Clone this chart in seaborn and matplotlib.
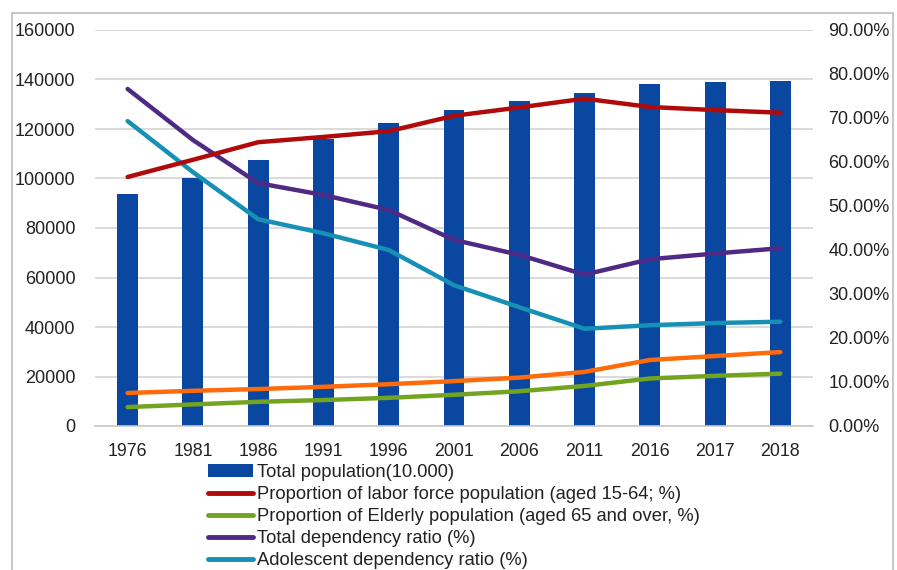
import numpy as np
import pandas as pd
import matplotlib
matplotlib.use("Agg")
import matplotlib.pyplot as plt
from matplotlib.lines import Line2D
from matplotlib.patches import Patch
import seaborn as sns

years = ["1976", "1981", "1986", "1991", "1996", "2001", "2006", "2011", "2016", "2017", "2018"]
total_population = [93717, 100072, 107507, 115823, 122389, 127627, 131448, 134735, 138271, 139008, 139538]
labor_force = [56.6, 60.5, 64.5, 65.7, 67.0, 70.5, 72.4, 74.4, 72.5, 71.8, 71.2]
elderly_prop = [4.3, 4.9, 5.5, 5.9, 6.4, 7.1, 7.9, 9.1, 10.8, 11.4, 11.9]
total_dependency = [76.6, 65.0, 55.2, 52.5, 49.1, 42.3, 38.9, 34.4, 37.9, 39.2, 40.4]
adolescent_dependency = [69.3, 57.7, 47.0, 43.8, 40.0, 32.0, 27.0, 22.1, 22.9, 23.4, 23.7]
elderly_dependency = [7.5, 8.0, 8.4, 8.9, 9.5, 10.2, 11.0, 12.3, 15.0, 15.9, 16.8]

left_ticks = [0, 20000, 40000, 60000, 80000, 100000, 120000, 140000, 160000]
right_ticks = [0, 10, 20, 30, 40, 50, 60, 70, 80, 90]

labels = [
    "Total population(10.000)",
    "Proportion of labor force population (aged 15-64; %)",
    "Proportion of Elderly population (aged 65 and over, %)",
    "Total dependency ratio (%)",
    "Adolescent dependency ratio (%)",
]

BAR = "#0A47A1"
RED = "#B00A0A"
GREEN = "#72A421"
PURPLE = "#4E2A84"
CYAN = "#1690B4"
ORANGE = "#FF6A0A"
GRID = "#D4D4D4"
TEXT = "#222222"

sns.set_theme(style="white")
plt.rcParams["font.family"] = ["Liberation Sans", "DejaVu Sans"]

fig = plt.figure(figsize=(8.97, 5.70), dpi=100)
ax = fig.add_axes([95 / 897, 1 - 426 / 570, (813 - 95) / 897, (426 - 30) / 570])

df_bar = pd.DataFrame({"year": years, "pop": total_population})
sns.barplot(data=df_bar, x="year", y="pop", color=BAR, width=0.32, saturation=1,
            ax=ax, zorder=2, edgecolor="none")
ax.set_xlim(-0.5, len(years) - 0.5)
ax.set_ylim(0, 160000)
ax.set_yticks(left_ticks)
ax.set_yticklabels([str(t) for t in left_ticks])
ax.set_axisbelow(True)
ax.yaxis.grid(True, color=GRID, linewidth=1.2)
ax.xaxis.grid(False)
for s in ["top", "right", "left"]:
    ax.spines[s].set_visible(False)
ax.spines["bottom"].set_color("#C8C8C8")
ax.spines["bottom"].set_linewidth(1.2)
ax.tick_params(axis="y", length=0, pad=14, labelsize=13, labelcolor=TEXT)
ax.tick_params(axis="x", length=0, pad=12, labelsize=12.8, labelcolor=TEXT)
ax.set_xlabel("")
ax.set_ylabel("")

ax2 = ax.twinx()
df_lines = pd.DataFrame({
    "year": years,
    "labor": labor_force,
    "elderly": elderly_prop,
    "total_dep": total_dependency,
    "adol_dep": adolescent_dependency,
    "eld_dep": elderly_dependency,
})
series = [("eld_dep", ORANGE), ("elderly", GREEN), ("adol_dep", CYAN),
          ("total_dep", PURPLE), ("labor", RED)]
for col, c in series:
    sns.lineplot(data=df_lines, x="year", y=col, color=c, linewidth=3.2, ax=ax2,
                 sort=False, solid_joinstyle="round", solid_capstyle="round")
ax2.set_xlim(-0.5, len(years) - 0.5)
ax2.set_ylim(0, 90)
ax2.set_yticks(right_ticks)
ax2.set_yticklabels([f"{t:.2f}%" for t in right_ticks])
for s in ["top", "right", "left", "bottom"]:
    ax2.spines[s].set_visible(False)
ax2.tick_params(axis="y", length=0, pad=11, labelsize=13, labelcolor=TEXT)
ax2.set_ylabel("")
ax2.set_xlabel("")
ax2.grid(False)

handles = [
    Patch(facecolor=BAR, edgecolor="none"),
    Line2D([], [], color=RED, linewidth=3.5),
    Line2D([], [], color=GREEN, linewidth=3.5),
    Line2D([], [], color=PURPLE, linewidth=3.5),
    Line2D([], [], color=CYAN, linewidth=3.5),
]
leg = fig.legend(handles, labels, loc="upper left",
                 bbox_to_anchor=(208 / 897, 1 - 464 / 570),
                 frameon=False, fontsize=13.2, handlelength=2.45, handleheight=0.65,
                 handletextpad=0.2, labelspacing=0.27, borderaxespad=0, borderpad=0)
for t in leg.get_texts():
    t.set_color(TEXT)

# outer chart frame
fc = "#BDBDBD"
x0, x1, yt = 12 / 897, 893 / 897, 1 - 13 / 570
fig.add_artist(Line2D([x0, x1], [yt, yt], transform=fig.transFigure, color=fc, lw=1.2))
fig.add_artist(Line2D([x0, x0], [yt, 0], transform=fig.transFigure, color=fc, lw=1.2))
fig.add_artist(Line2D([x1, x1], [yt, 0], transform=fig.transFigure, color=fc, lw=1.2))

fig.savefig("out.png", dpi=100)
